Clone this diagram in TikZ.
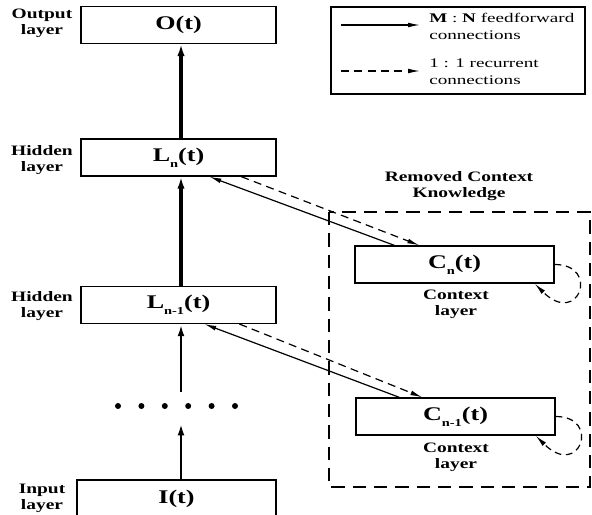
\documentclass[tikz,border=0pt]{standalone}
\usepackage{fontspec}
\setmainfont{Liberation Serif}[FakeStretch=1.35]
\newfontfamily\legfont{Liberation Serif}[FakeStretch=1.45]
\usetikzlibrary{arrows.meta,calc}
\newcommand{\subn}[1]{\raisebox{-4.5pt}{\fontsize{8}{8}\selectfont #1}}
\begin{document}
\begin{tikzpicture}[x=0.75pt,y=-0.75pt,
  box/.style={draw, line width=1pt, minimum width=146.25pt, minimum height=27.5pt, inner sep=0pt,
    font=\fontsize{14.5}{16}\selectfont\bfseries},
  cbox/.style={box, minimum width=149.25pt, minimum height=27.75pt},
  lbl/.style={align=center, inner sep=0pt, font=\fontsize{10.8}{12}\selectfont\bfseries},
  legtxt/.style={align=left, anchor=west, inner sep=0pt, font=\legfont\fontsize{9.9}{12.8}\selectfont},
  thick arrow/.style={line width=2.5pt, -{Latex[length=9pt,width=5.5pt]}},
  mid arrow/.style={line width=1.9pt, -{Latex[length=9pt,width=5pt]}},
  conn/.style={line width=0.9pt, -{Latex[length=9pt,width=3.6pt]}},
  dconn/.style={conn, dash pattern=on 6pt off 4pt},
  region/.style={line width=2.2pt, dash pattern=on 10pt off 6pt}]
\clip (0,0) rectangle (592,514);
\fill[white] (0,0) rectangle (592,514);

% main column
\node[box] (O) at (178.5,25) {O(t)};
\node[box, minimum height=27.75pt] (Ln) at (178.5,157.5) {L\subn{n}(t)};
\node[box] (Lm) at (178.5,305) {L\subn{n-1}(t)};
\node[box, minimum width=149.25pt, minimum height=28.5pt] (I) at (176.5,499) {I(t)};
\node[minimum width=100pt, minimum height=23.25pt, inner sep=0pt] (dots) at (181,407.5) {};
\foreach \i in {0,...,5} \fill ($(118,406)+(23.4*\i,0)$) circle (3);

% left labels
\node[lbl] (lo) at (42,23.5) {Output\\layer};
\node[lbl] (lh1) at (42,160.5) {Hidden\\layer};
\node[lbl] (lh2) at (42,306.5) {Hidden\\layer};
\node[lbl] (li) at (42,498.5) {Input\\layer};

% vertical arrows
\draw[thick arrow] ($(Ln.north)+(2.5,0)$) -- ($(O.south)+(2.5,0)$);
\draw[thick arrow] ($(Lm.north)+(2.5,0)$) -- ($(Ln.south)+(2.5,0)$);
\draw[mid arrow] (dots.north) -- ($(Lm.south)+(2.5,0)$);
\draw[mid arrow] ($(I.north)+(4.5,0)$) -- (dots.south);

% context region
\draw[region] (329,212) rectangle (590,487);
\node[lbl] (rck) at (459,186.5) {Removed Context\\Knowledge};
\node[cbox] (Cn) at (454.5,264.5) {C\subn{n}(t)};
\node[cbox] (Cm) at (455.5,416.5) {C\subn{n-1}(t)};
\node[lbl] (cl1) at (456,304) {Context\\layer};
\node[lbl] (cl2) at (456,457) {Context\\layer};

% connections
\draw[conn] ($(Cn.north west)+(40,0)$) -- ($(Ln.south west)+(129,0)$);
\draw[dconn] ($(Ln.south west)+(161,0)$) -- ($(Cn.north west)+(65,0)$);
\draw[conn] ($(Cm.north west)+(44,0)$) -- ($(Lm.south west)+(124,0)$);
\draw[dconn] ($(Lm.south west)+(159,0)$) -- ($(Cm.north west)+(67,0)$);

% self loops
\draw[conn, dash pattern=on 5pt off 3.5pt] (Cn.east) .. controls +(46,0) and +(44,44) .. ($(Cn.south east)+(-20,0)$);
\draw[conn, dash pattern=on 5pt off 3.5pt] (Cm.east) .. controls +(46,0) and +(44,44) .. ($(Cm.south east)+(-20,0)$);

% legend
\node[draw, line width=1.5pt, minimum width=190.5pt, minimum height=65.25pt, inner sep=0pt] (leg) at (458,50.5) {};
\coordinate (a1) at (341,25);
\coordinate (a2) at (420,25);
\coordinate (b1) at (341,71);
\coordinate (b2) at (420,71);
\draw[conn] (a1) -- (a2);
\draw[dconn] (b1) -- (b2);
\node[legtxt] (t1) at (429,26.5) {\textbf{M} : \textbf{N} feedforward\\connections};
\node[legtxt] (t2) at (429,71.5) {1 : 1 recurrent\\connections};
\end{tikzpicture}
\end{document}
